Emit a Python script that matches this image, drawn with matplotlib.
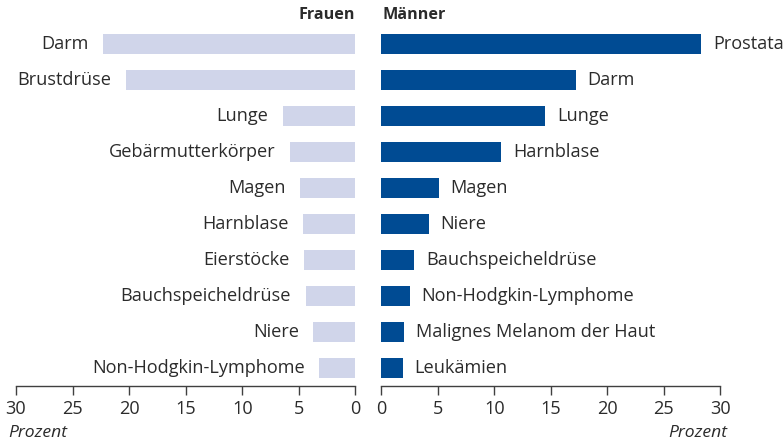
import matplotlib
matplotlib.use("Agg")
import matplotlib.pyplot as plt

plt.rcParams["font.family"] = ["Open Sans", "DejaVu Sans"]

# Daten (Prozent)
frauen_labels = ["Darm", "Brustdrüse", "Lunge", "Gebärmutterkörper", "Magen",
                 "Harnblase", "Eierstöcke", "Bauchspeicheldrüse", "Niere",
                 "Non-Hodgkin-Lymphome"]
frauen_werte = [22.3, 20.3, 6.4, 5.8, 4.9, 4.6, 4.5, 4.4, 3.7, 3.2]

maenner_labels = ["Prostata", "Darm", "Lunge", "Harnblase", "Magen", "Niere",
                  "Bauchspeicheldrüse", "Non-Hodgkin-Lymphome",
                  "Malignes Melanom der Haut", "Leukämien"]
maenner_werte = [28.3, 17.2, 14.5, 10.6, 5.1, 4.2, 2.9, 2.5, 2.0, 1.9]

ticks = [0, 5, 10, 15, 20, 25, 30]

farbe_f = "#d0d5ea"
farbe_m = "#004b93"
text_c = "#2b2b2b"
achse_c = "#404040"
fs = 13.1

fig = plt.figure(figsize=(7.83, 4.43), dpi=100)
bottom = (443 - 386) / 443
top = (443 - 26) / 443
ax_f = fig.add_axes([16 / 783, bottom, 339.3 / 783, top - bottom])
ax_m = fig.add_axes([381.3 / 783, bottom, 339 / 783, top - bottom])

pos = list(range(len(frauen_labels)))

ax_f.barh(pos, frauen_werte, height=0.56, color=farbe_f)
ax_m.barh(pos, maenner_werte, height=0.56, color=farbe_m)

for y, (lab, v) in enumerate(zip(frauen_labels, frauen_werte)):
    ax_f.annotate(lab, (v, y), xytext=(-10.5, 0), textcoords="offset points",
                  ha="right", va="center", fontsize=fs, color=text_c)
for y, (lab, v) in enumerate(zip(maenner_labels, maenner_werte)):
    ax_m.annotate(lab, (v, y), xytext=(8.5, 0), textcoords="offset points",
                  ha="left", va="center", fontsize=fs, color=text_c)

ax_f.set_xlim(30, 0)
ax_m.set_xlim(0, 30)
for ax in (ax_f, ax_m):
    ax.set_ylim(9.5, -0.5)
    ax.set_xticks(ticks)
    ax.set_xticklabels([str(t) for t in ticks])
    ax.set_yticks([])
    for s in ("top", "left", "right"):
        ax.spines[s].set_visible(False)
    ax.spines["bottom"].set_color(achse_c)
    ax.spines["bottom"].set_linewidth(1.0)
    ax.tick_params(axis="x", direction="out", length=6.5, width=1.0,
                   color=achse_c, labelcolor=text_c, labelsize=fs, pad=3.5)
    ax.set_facecolor("none")

fig.text(355 / 783, 1 - 15 / 443, "Frauen", ha="right", va="center",
         fontsize=11.6, fontweight="bold", color=text_c)
fig.text(382 / 783, 1 - 15 / 443, "Männer", ha="left", va="center",
         fontsize=11.6, fontweight="bold", color=text_c)
fig.text(8 / 783, 1 - 433 / 443, "Prozent", ha="left", va="center",
         fontsize=12.6, fontstyle="italic", color=text_c)
fig.text(727 / 783, 1 - 433 / 443, "Prozent", ha="right", va="center",
         fontsize=12.6, fontstyle="italic", color=text_c)

fig.savefig("out.png", dpi=100)
